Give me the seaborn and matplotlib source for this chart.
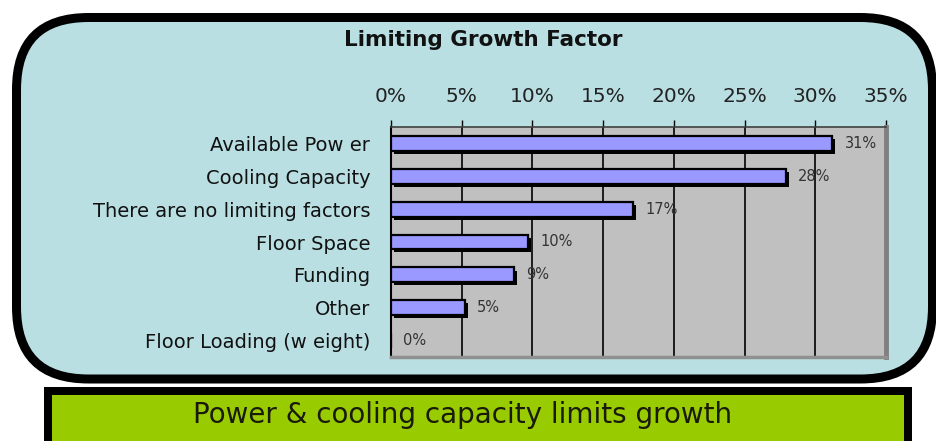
import matplotlib
matplotlib.use("Agg")
import matplotlib.pyplot as plt
import seaborn as sns
import pandas as pd
import matplotlib.patheffects as pe
from matplotlib.patches import FancyBboxPatch, Rectangle
from matplotlib.transforms import IdentityTransform
from matplotlib.ticker import FixedLocator

# ---- data ----
categories = ["Available Pow er", "Cooling Capacity", "There are no limiting factors",
              "Floor Space", "Funding", "Other", "Floor Loading (w eight)"]
values = [31.2, 27.9, 17.1, 9.7, 8.7, 5.2, 0.0]
value_labels = ["31%", "28%", "17%", "10%", "9%", "5%", "0%"]
x_ticks = [0, 5, 10, 15, 20, 25, 30, 35]
x_tick_labels = ["0%", "5%", "10%", "15%", "20%", "25%", "30%", "35%"]
title = "Limiting Growth Factor"
caption = "Power & cooling capacity limits growth"

W, H = 936, 441
sns.set_style("white")
plt.rcParams["font.family"] = ["DejaVu Sans"]

fig = plt.figure(figsize=(W / 100, H / 100), dpi=100)
fig.patch.set_facecolor("white")

# rounded panel (pixel coordinates)
panel = FancyBboxPatch((16.5, H - 379), 916, 361.5,
                       boxstyle="round,pad=0,rounding_size=72",
                       transform=IdentityTransform(), facecolor="#b9dfe3",
                       edgecolor="black", linewidth=9 * 0.72, zorder=-5)
fig.add_artist(panel)

# green caption box
green = Rectangle((48, -20), 860, H - 391 + 20, transform=IdentityTransform(),
                  facecolor="#99cc00", edgecolor="black", linewidth=8 * 0.72, zorder=1)
fig.add_artist(green)
fig.text(463 / W, 1 - 415 / H, caption, ha="center", va="center", fontsize=20,
         color="#1a1a0a", zorder=3)

fig.text(483 / W, 1 - 40 / H, title, ha="center", va="center", fontsize=15.5,
         fontweight="bold", color="#111111")

ax = fig.add_axes([391 / W, 1 - 357 / H, 495 / W, 230 / H])
ax.set_facecolor("#c0c0c0")
df = pd.DataFrame({"category": categories, "value": values})
sns.barplot(data=df, x="value", y="category", orient="h", color="#9999ff",
            saturation=1, edgecolor="black", linewidth=1.6, width=0.45, ax=ax,
            zorder=3)
for p in ax.patches:
    p.set_path_effects([pe.SimplePatchShadow(offset=(2.2, -2.2), shadow_rgbFace="black", alpha=1),
                        pe.Normal()])

ax.set_xlim(0, 35)
ax.set_ylim(len(categories) - 0.5, -0.5)
ax.xaxis.tick_top()
ax.set_xticks(x_ticks)
ax.set_xticklabels(x_tick_labels)
ax.set_xlabel("")
ax.set_ylabel("")
ax.grid(axis="x", color="black", linewidth=1.2)
ax.grid(axis="y", visible=False)
ax.set_axisbelow(True)

ax.tick_params(axis="x", which="major", direction="out", length=5, width=1,
               color="black", pad=10, labelsize=14.5, labelcolor="#222222")
ax.tick_params(axis="y", which="major", length=0, pad=15, labelsize=14,
               labelcolor="#111111")
ax.yaxis.set_minor_locator(FixedLocator([i - 0.5 for i in range(len(categories) + 1)]))
ax.tick_params(axis="y", which="minor", direction="out", length=6, width=1.2, color="black")

ax.spines["left"].set_color("black")
ax.spines["left"].set_linewidth(1.5)
ax.spines["top"].set_color("#404040")
ax.spines["top"].set_linewidth(1.2)
ax.spines["right"].set_color("#808080")
ax.spines["right"].set_linewidth(3.5)
ax.spines["bottom"].set_color("#909090")
ax.spines["bottom"].set_linewidth(2.5)

ax.bar_label(ax.containers[0], labels=value_labels, padding=9, fontsize=10.5,
             color="#333333")

fig.savefig("out.png", dpi=100)
